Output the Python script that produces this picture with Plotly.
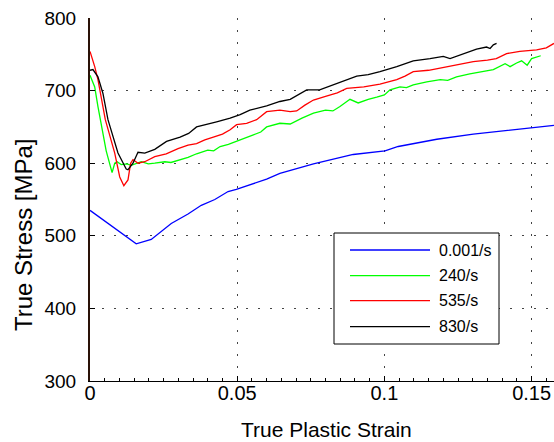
import plotly.graph_objects as go

# ---------------- data ----------------
labels = ["0.001/s", "240/s", "535/s", "830/s"]
colors = ["#0000ff", "#00ff00", "#ff0000", "#000000"]

strain_001 = [0, 0.0157, 0.0208, 0.0276, 0.0333, 0.0378, 0.0424, 0.0469, 0.0497, 0.055, 0.060,
              0.0645, 0.0759, 0.0894, 0.1002, 0.1047, 0.1178, 0.1302, 0.1438, 0.1576]
stress_001 = [535, 489, 495, 517, 530, 542, 550, 561, 564, 571, 578,
              586, 599, 612, 617, 623, 633, 640, 646, 652]

strain_240 = [0, 0.0016, 0.0027, 0.0036, 0.0055, 0.0075, 0.0084, 0.0092, 0.0106, 0.0125, 0.014,
              0.0174, 0.0198, 0.022, 0.0254, 0.0275, 0.0299, 0.0333, 0.0362, 0.040, 0.042,
              0.0442, 0.047, 0.0498, 0.052, 0.0555, 0.058, 0.060, 0.0645, 0.068, 0.072,
              0.0759, 0.080, 0.0825, 0.0849, 0.0883, 0.0911, 0.0945, 0.0974, 0.1000, 0.1019,
              0.1053, 0.1075, 0.1098, 0.1144, 0.119, 0.1215, 0.1245, 0.129, 0.1325, 0.137,
              0.141, 0.1427, 0.1449, 0.1466, 0.1485, 0.150, 0.1531]
stress_240 = [721, 705, 678, 659, 617, 587, 600, 602, 598, 599, 597,
              602, 599, 600, 602, 601, 604, 608, 613, 618, 617,
              623, 626, 630, 633, 639, 643, 650, 655, 654, 662,
              669, 673, 672, 678, 688, 683, 688, 691, 694, 701,
              705, 704, 708, 712, 715, 714, 719, 723, 726, 729,
              737, 733, 738, 741, 735, 744, 748]

strain_535 = [0, 0.0016, 0.0027, 0.0044, 0.0052, 0.0084, 0.0101, 0.0115, 0.0129, 0.0138, 0.0146,
              0.0163, 0.0186, 0.022, 0.0259, 0.0299, 0.0333, 0.0362, 0.039, 0.0419, 0.045,
              0.0476, 0.0498, 0.0532, 0.0566, 0.060, 0.0623, 0.0645, 0.068, 0.0702, 0.073,
              0.0759, 0.080, 0.084, 0.0872, 0.093, 0.0985, 0.1042, 0.107, 0.1098, 0.115,
              0.1212, 0.126, 0.1302, 0.135, 0.138, 0.1415, 0.146, 0.1517, 0.155, 0.1576]
stress_535 = [754, 733, 715, 678, 660, 614, 581, 569, 577, 600, 605,
              600, 602, 609, 613, 620, 625, 627, 632, 636, 640,
              646, 653, 655, 660, 671, 672, 673, 671, 672, 680,
              687, 692, 697, 703, 705, 709, 715, 720, 726, 728,
              733, 736, 740, 742, 744, 751, 754, 756, 759, 765]

strain_830 = [0, 0.001, 0.0027, 0.0044, 0.0061, 0.0095, 0.0123, 0.0129, 0.0146, 0.0163, 0.0186,
              0.022, 0.026, 0.0306, 0.0335, 0.0362, 0.043, 0.0476, 0.051, 0.0543, 0.060,
              0.0645, 0.068, 0.0736, 0.078, 0.0849, 0.0906, 0.0945, 0.0985, 0.1042, 0.1098,
              0.1155, 0.120, 0.1223, 0.129, 0.1313, 0.1347, 0.1359, 0.137, 0.1381]
stress_830 = [728, 729, 719, 696, 660, 614, 592, 591, 600, 615, 614,
              619, 630, 636, 641, 650, 657, 662, 667, 673, 679,
              685, 688, 701, 701, 712, 720, 722, 726, 733, 741,
              744, 747, 744, 753, 757, 760, 758, 763, 765]

series_x = [strain_001, strain_240, strain_535, strain_830]
series_y = [stress_001, stress_240, stress_535, stress_830]

x_tickvals = [0, 0.05, 0.1, 0.15]
x_ticktext = ["0", "0.05", "0.1", "0.15"]
y_tickvals = [300, 400, 500, 600, 700, 800]

# ---------------- layout geometry ----------------
W_FIG, H_FIG = 554, 442
L, R, T, B = 90, 554, 18, 381
PW, PH = R - L, B - T
FONT = "Liberation Sans, Arial, Helvetica, sans-serif"


def pxx(p):
    return (p - L) / PW


def pxy(p):
    return (B - p) / PH


fig = go.Figure()
for xs, ys, name, col in zip(series_x, series_y, labels, colors):
    fig.add_trace(go.Scatter(x=xs, y=ys, mode="lines", name=name,
                             line=dict(color=col, width=1.3), showlegend=False))

# manual MATLAB-style legend
shapes = [dict(type="rect", xref="paper", yref="paper",
               x0=pxx(334), x1=pxx(499), y0=pxy(344), y1=pxy(233),
               line=dict(color="black", width=1), fillcolor="white", layer="above")]
annotations = []
row_y = [250, 275.7, 300.7, 326.7]
for ry, name, col in zip(row_y, labels, colors):
    shapes.append(dict(type="line", xref="paper", yref="paper",
                       x0=pxx(350), x1=pxx(430), y0=pxy(ry), y1=pxy(ry),
                       line=dict(color=col, width=1.3), layer="above"))
    annotations.append(dict(xref="paper", yref="paper", x=pxx(437), y=pxy(ry),
                            text=name, showarrow=False, xanchor="left", yanchor="middle",
                            font=dict(family=FONT, size=16, color="black")))

# axis titles
annotations.append(dict(xref="paper", yref="paper", x=pxx(326), y=pxy(429),
                        text="True Plastic Strain", showarrow=False,
                        xanchor="center", yanchor="middle",
                        font=dict(family=FONT, size=21, color="black")))
annotations.append(dict(xref="paper", yref="paper", x=pxx(24), y=pxy(235),
                        text="True Stress [MPa]", showarrow=False, textangle=-90,
                        xanchor="center", yanchor="middle",
                        font=dict(family=FONT, size=24, color="black")))

fig.update_layout(
    width=W_FIG, height=H_FIG,
    margin=dict(l=L, r=W_FIG - R, t=T, b=H_FIG - B, pad=0),
    paper_bgcolor="white", plot_bgcolor="white",
    shapes=shapes, annotations=annotations,
    font=dict(family=FONT, size=19, color="black"),
    xaxis=dict(range=[0, (R - L) / 2944], tickvals=x_tickvals, ticktext=x_ticktext,
               ticks="inside", ticklen=5, tickcolor="black", tickwidth=1,
               showline=True, linecolor="black", linewidth=1.2,
               showgrid=True, gridcolor="#444444", gridwidth=1, griddash="2px,10px",
               zeroline=False, ticklabelstandoff=-6,
               tickfont=dict(family=FONT, size=20, color="black"),
               minor=dict(ticks="inside", ticklen=3, dtick=0.005, tick0=0,
                          tickcolor="black", showgrid=False)),
    yaxis=dict(range=[300, 800], tickvals=y_tickvals,
               ticks="inside", ticklen=5, tickcolor="black", tickwidth=1,
               showline=True, linecolor="#2a1208", linewidth=2,
               showgrid=True, gridcolor="#444444", gridwidth=1, griddash="2px,10px",
               zeroline=False, ticklabelstandoff=8,
               tickfont=dict(family=FONT, size=19, color="black")),
)

fig.write_html("out.html")
